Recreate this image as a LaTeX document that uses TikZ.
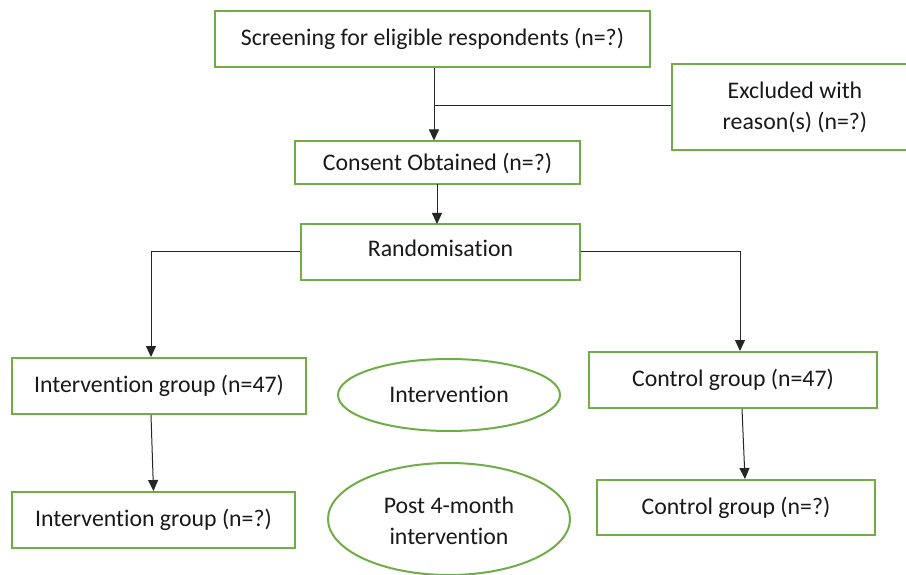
\documentclass[tikz,border=0pt]{standalone}
\usepackage{fontspec}
\setmainfont[Ligatures=NoCommon]{Carlito}
\usetikzlibrary{arrows.meta,shapes.geometric}
\definecolor{boxgreen}{HTML}{70AD47}
\tikzset{
  box/.style={draw=boxgreen, line width=2pt, rectangle, inner sep=0pt, align=center,
    font=\fontsize{23.8}{31}\selectfont, text=black!90},
  oval/.style={draw=boxgreen, line width=2pt, ellipse, inner sep=0pt},
  lbl/.style={font=\fontsize{23.8}{31}\selectfont, text=black!90, align=center},
  arr/.style={draw=black!85, line width=1pt, -{Triangle[length=11pt,width=10pt]}},
  ln/.style={draw=black!85, line width=1pt}
}
\begin{document}
\begin{tikzpicture}[x=1pt,y=-1pt]
\useasboundingbox (0,0) rectangle (906,575);
\clip (0,0) rectangle (906,575);
\fill[white] (0,0) rectangle (906,575);
\node[box, minimum width=435pt, minimum height=56pt] (scr) at (432.5,39) {Screening for eligible respondents (n=?)};
\node[box, minimum width=246pt, minimum height=86pt] (exc) at (795,107) {Excluded with\\reason(s) (n=?)};
\node[box, minimum width=285pt, minimum height=43pt] (cons) at (437.5,163) {Consent Obtained (n=?)};
\node[box, minimum width=279pt, minimum height=56pt] (rand) at (440.5,252) {};
\node[lbl] (randt) at (440.5,248) {Randomisation};
\node[box, minimum width=294pt, minimum height=56pt] (ig) at (159,386) {Intervention group (n=47)};
\node[box, minimum width=283pt, minimum height=56pt] (ig2) at (153.5,520) {Intervention group (n=?)};
\node[box, minimum width=288pt, minimum height=56pt] (cg) at (733,380) {Control group (n=47)};
\node[box, minimum width=278pt, minimum height=55pt] (cg2) at (736,507.5) {Control group (n=?)};
\node[oval, minimum width=222pt, minimum height=72pt] (iv) at (449,395) {};
\node[lbl] (ivt) at (449,394) {Intervention};
\node[oval, minimum width=242pt, minimum height=112pt] (post) at (449,519) {};
\node[lbl] (postt) at (449,521) {Post 4-month\\intervention};
\coordinate (j) at (434,106);
\draw[arr] (j |- scr.south) -- (j |- cons.north);
\draw[ln] (j) -- (j -| exc.west);
\draw[arr] (437,184) -- (437,224);
\draw[arr] (rand.west) -| ([xshift=-8pt]ig.north);
\draw[arr] (rand.east) -| ([xshift=7pt]cg.north);
\draw[arr] ([xshift=-8pt]ig.south) -- (ig2.north);
\draw[arr] ([xshift=9pt]cg.south) -- ([xshift=9pt]cg2.north);
\end{tikzpicture}
\end{document}
